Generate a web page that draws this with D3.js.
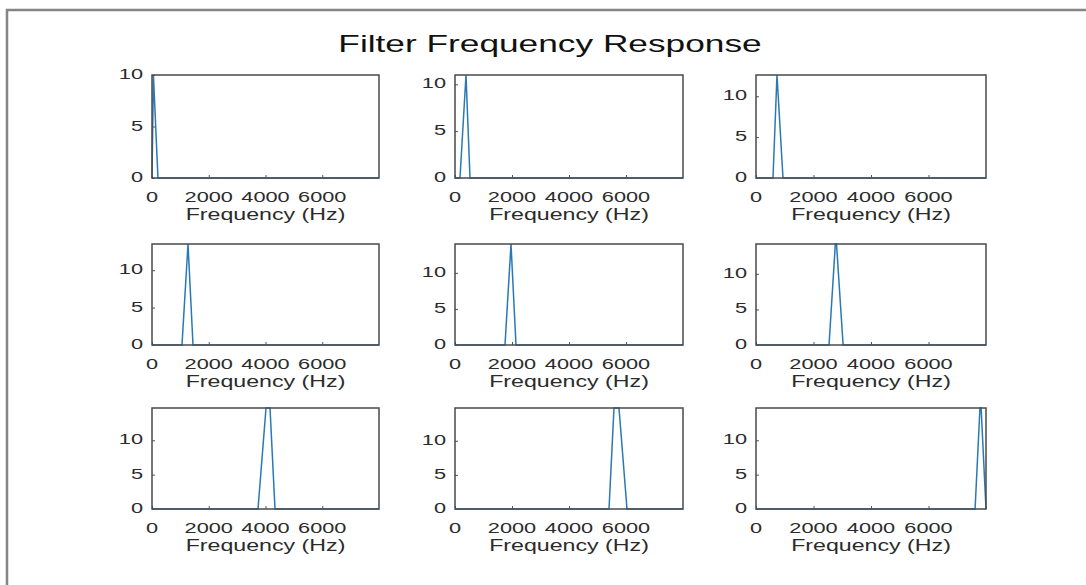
<!DOCTYPE html>
<html>
<head>
<meta charset="utf-8">
<script src="https://cdn.jsdelivr.net/npm/d3@7"></script>
<style>
  body { margin: 0; background: #fff; }
  text { font-family: "Liberation Sans", Arial, sans-serif; fill: #2b2b2b; }
</style>
</head>
<body>
<div id="root"></div>
<script>
// chart data
const title = "Filter Frequency Response";
const xLabel = "Frequency (Hz)";
const xTicks = [0, 2000, 4000, 6000];
const yTicks = [0, 5, 10];
const xMax = 8000;
// each filter: frequency points (Hz) and magnitude at those points
const filterHz = [
  [0, 50, 210, 8000],
  [0, 175, 386, 526, 8000],
  [0, 591, 730, 939, 8000],
  [0, 1057, 1269, 1445, 8000],
  [0, 1754, 1965, 2140, 8000],
  [0, 2540, 2760, 2800, 3030, 8000],
  [0, 3736, 4018, 4159, 4335, 8000],
  [0, 5404, 5579, 5754, 6035, 8000],
  [0, 7620, 7790, 7830, 8000]
];
const filterMag = [
  [0, 10, 0, 0],
  [0, 0, 11, 0, 0],
  [0, 0, 12.6, 0, 0],
  [0, 0, 13.5, 0, 0],
  [0, 0, 14, 0, 0],
  [0, 0, 14.2, 14.2, 0, 0],
  [0, 0, 14.7, 14.7, 0, 0],
  [0, 0, 14.8, 14.8, 0, 0],
  [0, 0, 14.7, 14.7, 0]
];

const width = 1086, height = 585;
const sx = 1.5; // text in the picture is stretched sideways
const cols = [{x: 152, w: 227}, {x: 455, w: 228}, {x: 756, w: 230}];
const rows = [{y: 75, h: 103}, {y: 244, h: 101}, {y: 408, h: 101}];

const svg = d3.select('#root').append('svg')
  .attr('width', width).attr('height', height);

// outer frame
svg.append('rect')
  .attr('x', 7).attr('y', 10).attr('width', width + 20).attr('height', height + 20)
  .attr('fill', 'none').attr('stroke', '#858585').attr('stroke-width', 2.5);

svg.append('text')
  .attr('transform', `translate(550,52) scale(1.47,1)`)
  .attr('text-anchor', 'middle')
  .style('font-size', '24px')
  .style('fill', '#111')
  .text(title);

filterHz.forEach((hz, i) => {
  const c = cols[i % 3], r = rows[Math.floor(i / 3)];
  const mag = filterMag[i];
  const yMax = d3.max(mag);
  const x = d3.scaleLinear().domain([0, xMax]).range([c.x, c.x + c.w]);
  const y = d3.scaleLinear().domain([0, yMax]).range([r.y + r.h, r.y]);
  const g = svg.append('g');

  // ticks pointing inward
  g.append('g').attr('transform', `translate(0,${r.y + r.h})`)
    .call(d3.axisBottom(x).tickValues(xTicks).tickSize(-3).tickFormat(''))
    .call(a => a.select('.domain').remove())
    .selectAll('line').attr('stroke', '#555');
  g.append('g').attr('transform', `translate(${c.x},0)`)
    .call(d3.axisLeft(y).tickValues(yTicks.filter(t => t <= yMax)).tickSize(-3).tickFormat(''))
    .call(a => a.select('.domain').remove())
    .selectAll('line').attr('stroke', '#555');

  const line = d3.line().x((d, k) => x(hz[k])).y(d => y(d));
  g.append('path')
    .datum(mag)
    .attr('d', line)
    .attr('fill', 'none')
    .attr('stroke', '#2a79b6')
    .attr('stroke-width', 1.5);

  g.append('rect')
    .attr('x', c.x).attr('y', r.y).attr('width', c.w).attr('height', r.h)
    .attr('fill', 'none').attr('stroke', '#4a4a4a').attr('stroke-width', 1.5);

  g.selectAll('.xt').data(xTicks).enter().append('text')
    .attr('transform', d => `translate(${x(d)},${r.y + r.h + 24}) scale(${sx},1)`)
    .attr('text-anchor', 'middle')
    .style('font-size', '14.5px')
    .text(d => d);

  g.selectAll('.yt').data(yTicks.filter(t => t <= yMax)).enter().append('text')
    .attr('transform', d => `translate(${c.x - 9},${y(d) + 4}) scale(${sx},1)`)
    .attr('text-anchor', 'end')
    .style('font-size', '14.5px')
    .text(d => d);

  g.append('text')
    .attr('transform', `translate(${c.x + c.w / 2},${r.y + r.h + 42}) scale(1.45,1)`)
    .attr('text-anchor', 'middle')
    .style('font-size', '16px')
    .text(xLabel);
});
</script>
</body>
</html>
